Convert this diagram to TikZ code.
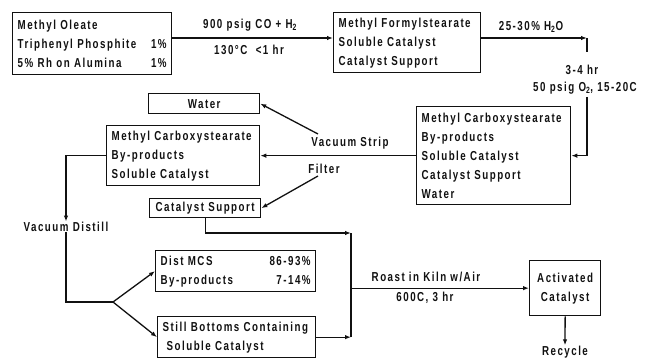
\documentclass[tikz,border=0pt]{standalone}
\usepackage{fontspec}
\setmainfont{Liberation Sans}[FakeStretch=0.75,LetterSpace=11.5]
\usetikzlibrary{arrows.meta, positioning, calc}
\definecolor{ink}{HTML}{111111}

\begin{document}
\begin{tikzpicture}[x=1pt, y=-1pt, line width=1.3pt, draw=ink, text=ink,
  box/.style={draw, anchor=north west, inner xsep=5pt, inner ysep=0pt, align=left,
              font=\bfseries\fontsize{13}{19}\selectfont},
  lbl/.style={inner sep=0pt, font=\bfseries\fontsize{13}{14}\selectfont},
  flow/.style={-{Latex[length=6pt,width=4.5pt]}}]
  \useasboundingbox (0,0) rectangle (650,358);
  % hydroformylation
  \node[box, text width=149pt, minimum height=62pt] (oleate) at (12,12)
    {Methyl Oleate\\Triphenyl Phosphite\hfill 1\%\\5\% Rh on Alumina\hfill 1\%};
  \node[box, text width=137pt, minimum height=60pt] (formyl) at (333,12)
    {Methyl Formylstearate\\Soluble Catalyst\\Catalyst Support};
  \node[lbl] (p900) at (250,25) {900 psig CO + H\textsubscript{2}};
  \node[lbl] (t130) at (249,50) {130°C \ <1 hr};
  \draw[flow] ($(oleate.north east)+(0,26)$) -- ($(formyl.north west)+(0,26)$);
  % oxidation
  \node[lbl] (h2o) at (531,27) {25-30\% H\textsubscript{2}O};
  \node[lbl] (hr34) at (582,70) {3-4 hr};
  \node[lbl] (o2) at (585,88) {50 psig O\textsubscript{2}, 15-20C};
  \coordinate (r1) at (587,38);
  \coordinate (r2) at (587,97);
  \node[box, text width=144pt, minimum height=98pt] (carbox) at (416,106)
    {Methyl Carboxystearate\\By-products\\Soluble Catalyst\\Catalyst Support\\Water};
  \draw[flow] ($(formyl.north east)+(0,26)$) -- (r1);
  \draw (r1) -- ++(0,14);
  \draw[flow] (r2) |- (carbox.east);
  % strip and filter
  \node[box, align=center, text width=101pt, minimum height=20pt] (water) at (148,93) {Water};
  \node[box, text width=143pt, minimum height=60pt] (mcsraw) at (106,125)
    {Methyl Carboxystearate\\By-products\\Soluble Catalyst};
  \node[box, align=center, text width=101pt, minimum height=19pt] (catsup) at (149,198) {Catalyst Support};
  \node[lbl] (vstrip) at (350,143) {Vacuum Strip};
  \node[lbl] (filter) at (324,169) {Filter};
  \coordinate (ws) at (318,134);
  \coordinate (fs) at (318,176);
  \draw[flow] (carbox.west) -- (mcsraw.east);
  \draw[flow] (ws) -- (water.east);
  \draw[flow] (fs) -- (catsup.east);
  % distillation
  \node[lbl] (vdist) at (66,227) {Vacuum Distill};
  \coordinate (fork) at (113,302);
  \node[box, text width=150pt, minimum height=41pt] (dist) at (155,250)
    {Dist MCS\hfill 86-93\%\\By-products\hfill 7-14\%};
  \node[box, text width=148pt, minimum height=41pt] (bottoms) at (157,316)
    {Still Bottoms Containing\\\hspace*{4pt}Soluble Catalyst};
  \draw[flow] (mcsraw.west) -| (vdist.north);
  \draw (vdist.south) |- (fork);
  \draw[flow] (fork) -- (dist.west);
  \draw[flow] (fork) -- (bottoms.west);
  % roasting
  \coordinate (jtop) at (351,233);
  \coordinate (jbot) at (351,337);
  \node[box, align=center, text width=61pt, minimum height=55pt] (activ) at (529,260)
    {Activated\\Catalyst};
  \node[lbl] (roast) at (426,277) {Roast in Kiln w/Air};
  \node[lbl] (c600) at (425,298) {600C, 3 hr};
  \node[lbl] (recycle) at (565,352) {Recycle};
  \draw[flow] (catsup.south) |- (jtop);
  \draw[flow] (bottoms.east) -- (bottoms.east -| jtop);
  \draw (jtop) -- (jbot);
  \draw[flow] (activ.west -| jtop) -- (activ.west);
  \draw[flow] (activ.south) -- (recycle.north);
\end{tikzpicture}
\end{document}
